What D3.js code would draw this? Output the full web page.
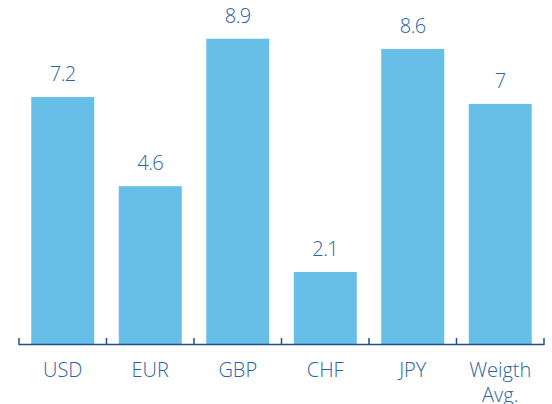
<!DOCTYPE html>
<html>
<head>
<meta charset="utf-8">
<script src="https://d3js.org/d3.v7.min.js"></script>
<style>
  body { margin: 0; background: #fff; overflow: hidden; }
  svg text { font-family: "Open Sans", Lato, sans-serif; font-weight: 300; }
</style>
</head>
<body>
<div id="chart"></div>
<script>
const categories = ['USD', 'EUR', 'GBP', 'CHF', 'JPY', 'Weigth Avg.'];
const values = [7.2, 4.6, 8.9, 2.1, 8.6, 7];
const valueLabels = ['7.2', '4.6', '8.9', '2.1', '8.6', '7'];

const width = 552, height = 404;
const svg = d3.select('#chart').append('svg')
    .attr('width', width)
    .attr('height', height);

const x = d3.scaleBand()
    .domain(categories)
    .range([19, 544])
    .paddingInner(0.28)
    .paddingOuter(0.14);

const y = d3.scaleLinear()
    .domain([0, 10])
    .range([344, 1]);

// bars
svg.append('g')
    .selectAll('rect')
    .data(values)
    .join('rect')
    .attr('x', (d, i) => x(categories[i]))
    .attr('y', d => y(d))
    .attr('width', x.bandwidth())
    .attr('height', d => y(0) - y(d))
    .attr('fill', '#67bfe7');

// value labels
svg.append('g')
    .selectAll('text')
    .data(values)
    .join('text')
    .attr('x', (d, i) => x(categories[i]) + x.bandwidth() / 2)
    .attr('y', d => y(d) - 16)
    .attr('text-anchor', 'middle')
    .attr('font-size', '20px')
    .attr('letter-spacing', '-0.6px')
    .attr('fill', '#2b63a5')
    .text((d, i) => valueLabels[i]);

// axis line + boundary ticks
const axis = svg.append('g');
axis.append('line')
    .attr('x1', 19).attr('x2', 544)
    .attr('y1', 344.5).attr('y2', 344.5)
    .attr('stroke', '#1f4f8f').attr('stroke-width', 1.5);

const step = x.step();
const bounds = d3.range(categories.length + 1).map(i => 19 + i * step);
axis.selectAll('.tick')
    .data(bounds)
    .join('line')
    .attr('x1', d => d).attr('x2', d => d)
    .attr('y1', 338).attr('y2', 345)
    .attr('stroke', '#1f4f8f').attr('stroke-width', 1.5);

// category labels
const labels = svg.append('g')
    .selectAll('text')
    .data(categories)
    .join('text')
    .attr('x', d => x(d) + x.bandwidth() / 2)
    .attr('y', 377)
    .attr('text-anchor', 'middle')
    .attr('font-size', '20px')
    .attr('fill', '#2b63a5');

labels.each(function (d) {
    const words = d.split(' ');
    const t = d3.select(this);
    words.forEach((w, j) => {
        t.append('tspan')
            .attr('x', x(d) + x.bandwidth() / 2)
            .attr('dy', j === 0 ? 0 : 25)
            .text(w);
    });
});
</script>
</body>
</html>
